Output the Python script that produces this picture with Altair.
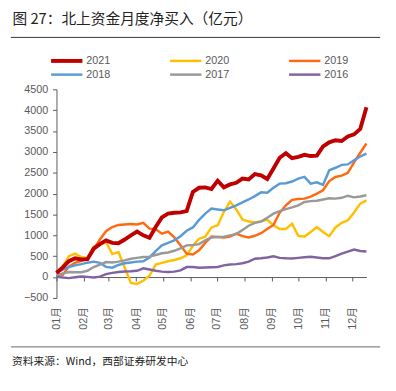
import altair as alt
import pandas as pd

years = ["2021", "2020", "2019", "2018", "2017", "2016"]
colors = ["#C00000", "#FFC000", "#FF6A10", "#5B9BD5", "#999999", "#8064A2"]

month_days = [0, 31, 59, 90, 120, 151, 181, 212, 243, 273, 304, 334]
month_labels = ["01月", "02月", "03月", "04月", "05月", "06月", "07月", "08月", "09月", "10月", "11月", "12月"]

v2021 = [100, 230, 380, 450, 420, 430, 680, 790, 880, 820, 810, 900, 1000, 1090, 1000, 940, 1200, 1430, 1520, 1540,
         1550, 1580, 2040, 2140, 2150, 2110, 2310, 2150, 2220, 2260, 2360, 2340, 2470, 2440, 2350, 2600, 2860, 2970,
         2850, 2880, 2930, 2900, 2910, 3130, 3230, 3280, 3260, 3370, 3420, 3550, 4070]
v2020 = [100, 250, 500, 560, 480, 450, 730, 780, 840, 550, 600, 230, -140, -165, -90, 30, 300, 340, 380, 410,
         450, 520, 750, 920, 970, 1190, 1240, 1560, 1810, 1620, 1380, 1330, 1310, 1340, 1370, 1240, 1150, 1150,
         1280, 990, 970, 1080, 1200, 1080, 980, 1190, 1300, 1360, 1550, 1760, 1840]
v2019 = [100, 50, 250, 340, 390, 460, 660, 900, 1100, 1200, 1250, 1260, 1270, 1260, 1300, 1160, 1150, 1040, 1090, 950,
         760, 560, 540, 640, 820, 970, 960, 950, 970, 1040, 980, 950, 990, 1050, 1150, 1250, 1540, 1720,
         1850, 1870, 1880, 1930, 2000, 2080, 2300, 2400, 2430, 2500, 2750, 2980, 3200]
v2018 = [100, 180, 240, 280, 310, 345, 370, 340, 245, 225, 290, 330, 350, 370, 380, 470, 620, 760, 820, 880,
         980, 1110, 1190, 1370, 1520, 1640, 1620, 1600, 1660, 1720, 1790, 1860, 1940, 2030, 2020, 2140, 2240, 2250,
         2290, 2360, 2400, 2240, 2270, 2210, 2560, 2620, 2690, 2700, 2800, 2890, 2960]
v2017 = [20, 90, 120, 115, 115, 150, 240, 300, 360, 350, 370, 400, 440, 460, 480, 490, 530, 570, 590, 630,
         690, 760, 770, 790, 880, 950, 960, 970, 1000, 1030, 1130, 1230, 1300, 1330, 1420, 1520, 1580, 1630,
         1670, 1720, 1800, 1820, 1830, 1860, 1890, 1880, 1900, 1950, 1910, 1930, 1960]
v2016 = [10, -10, -25, -5, 15, 5, -10, 10, 70, 100, 120, 135, 140, 150, 210, 180, 150, 130, 120, 130,
         160, 240, 240, 225, 230, 235, 240, 280, 300, 310, 330, 370, 440, 450, 470, 500, 460, 450,
         445, 460, 475, 485, 470, 450, 450, 500, 560, 610, 660, 625, 615]

series = dict(zip(years, [v2021, v2020, v2019, v2018, v2017, v2016]))
rows = []
for y, vals in series.items():
    for i, v in enumerate(vals):
        rows.append({"day": 7 * i, "value": v, "year": y})
df = pd.DataFrame(rows)

title_text = "图 27：北上资金月度净买入（亿元）"
source_text = "资料来源：Wind，西部证券研发中心"

LAT = "Liberation Sans, Arial, Noto Sans CJK SC"
CJK = "Noto Sans CJK SC"
GREY = "#595959"

label_expr = "[" + ",".join(f"'{m}'" for m in month_labels) + "][indexof([" + ",".join(str(d) for d in month_days) + "], datum.value)]"

cscale = alt.Scale(domain=years, range=colors)
color = alt.Color("year:N", scale=cscale, legend=None)
swidth = alt.condition(alt.datum.year == "2021", alt.value(4), alt.value(2.5))

x = alt.X("day:Q", scale=alt.Scale(domain=[0, 350], nice=False, zero=False),
          axis=alt.Axis(title=None, values=month_days, labelExpr=label_expr, labelAngle=270,
                        offset=-21.3, tickSize=4, labelPadding=26, labelFontSize=11, labelColor=GREY,
                        labelFont=LAT, domainColor=GREY, tickColor=GREY, grid=False))
y = alt.Y("value:Q", scale=alt.Scale(domain=[-500, 4500], nice=False),
          axis=alt.Axis(title=None, values=list(range(-500, 4501, 500)), format="d", tickSize=4, labelPadding=5,
                        labelFontSize=11, labelColor=GREY, labelFont=LAT, domainColor=GREY, tickColor=GREY,
                        grid=False))

base = alt.Chart(df)
others = base.transform_filter(alt.datum.year != "2021").mark_line(strokeWidth=2.5).encode(x=x, y=y, color=color)
top = base.transform_filter(alt.datum.year == "2021").mark_line(strokeWidth=4).encode(x=x, y=y, color=color)
main = alt.layer(others, top)

# manual legend: 3 columns x 2 rows, layout computed from entry index
leg = alt.Chart(pd.DataFrame({"year": years, "idx": list(range(len(years)))})).transform_calculate(
    lx="-5.5 + (datum.idx % 3) * 121.5",
    lx2="-5.5 + (datum.idx % 3) * 121.5 + 32",
    tx="-5.5 + (datum.idx % 3) * 121.5 + 36",
    ly="-29 + floor(datum.idx / 3) * 14",
)
leg_sym = leg.mark_rule().encode(
    x=alt.X("lx:Q", scale=None, axis=None), x2="lx2:Q",
    y=alt.Y("ly:Q", scale=None, axis=None), color=color, strokeWidth=swidth)
leg_txt = leg.mark_text(align="left", baseline="middle", fontSize=11, font=LAT, color=GREY).encode(
    x=alt.X("tx:Q", scale=None, axis=None), y=alt.Y("ly:Q", scale=None, axis=None), text="year:N")

title = alt.Chart(pd.DataFrame({"t": [title_text]})).mark_text(
    align="left", baseline="middle", fontSize=15, font=CJK, color="#222222").encode(
    text="t:N", x=alt.value(-45), y=alt.value(-72))
src = alt.Chart(pd.DataFrame({"t": [source_text]})).mark_text(
    align="left", baseline="middle", fontSize=11, font=CJK, color="#222222").encode(
    text="t:N", x=alt.value(-45.5), y=alt.value(278))
line_top = alt.Chart(pd.DataFrame({"a": [0]})).mark_rule(color="#333333", strokeWidth=1).encode(
    x=alt.value(-46.5), x2=alt.value(330.5), y=alt.value(-53))
line_bot = alt.Chart(pd.DataFrame({"a": [0]})).mark_rule(color="#666666", strokeWidth=1).encode(
    x=alt.value(-46.5), x2=alt.value(330.5), y=alt.value(263))

chart = alt.layer(main, leg_sym, leg_txt, title, src, line_top, line_bot).resolve_scale(
    x="independent", y="independent").properties(
    width=316.5, height=213,
    autosize=alt.AutoSizeParams(type="none"),
    padding={"left": 49.5, "top": 79, "right": 22, "bottom": 91},
).configure_view(stroke=None)

chart.save("out.html", embed_options={"renderer": "svg", "actions": False})
